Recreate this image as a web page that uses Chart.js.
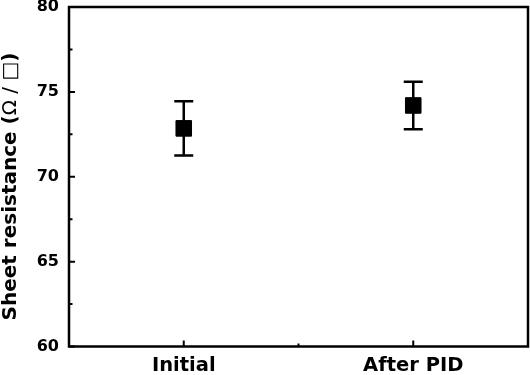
<!DOCTYPE html>
<html>
<head>
<meta charset="utf-8">
<script src="https://cdn.jsdelivr.net/npm/chart.js@4.4.1/dist/chart.umd.min.js"></script>
<style>
html,body{margin:0;padding:0;background:#fff;}
#wrap{width:530px;height:375px;position:relative;}
</style>
</head>
<body>
<div id="wrap"><canvas id="c" width="530" height="375"></canvas></div>
<script>
const categories = ['Initial', 'After PID'];
const categoryPositions = [1, 2];
const meanValues = [72.85, 74.2];
const errorValues = [1.6, 1.4];
const yTicks = [60, 65, 70, 75, 80];
const yMinorTicks = [62.5, 67.5, 72.5, 77.5];
const xMinorTicks = [1.5];
const yTitleParts = [['Sheet resistance (', 'bold'], ['Ω / □', 'normal'], [')', 'bold']];

const FONT = '"DejaVu Sans", sans-serif';

const framePlugin = {
  id: 'frame',
  beforeDatasetsDraw(chart) {
    const ctx = chart.ctx;
    const xs = chart.scales.x, ys = chart.scales.y;
    ctx.save();
    ctx.strokeStyle = '#000';
    ctx.lineWidth = 2.5;
    categoryPositions.forEach((p, i) => {
      const x = xs.getPixelForValue(p);
      const yt = ys.getPixelForValue(meanValues[i] + errorValues[i]);
      const yb = ys.getPixelForValue(meanValues[i] - errorValues[i]);
      ctx.beginPath();
      ctx.moveTo(x, yt); ctx.lineTo(x, yb);
      ctx.moveTo(x - 9.5, yt); ctx.lineTo(x + 9.5, yt);
      ctx.moveTo(x - 9.5, yb); ctx.lineTo(x + 9.5, yb);
      ctx.stroke();
    });
    ctx.restore();
  },
  afterDraw(chart) {
    const ctx = chart.ctx;
    const a = chart.chartArea;
    const xs = chart.scales.x, ys = chart.scales.y;
    ctx.save();
    ctx.strokeStyle = '#000';
    ctx.lineWidth = 2.5;
    ctx.strokeRect(a.left, a.top, a.right - a.left, a.bottom - a.top);
    ctx.lineWidth = 2;
    ctx.beginPath();
    yTicks.forEach(v => {
      const y = ys.getPixelForValue(v);
      ctx.moveTo(a.left, y); ctx.lineTo(a.left + 6, y);
    });
    yMinorTicks.forEach(v => {
      const y = ys.getPixelForValue(v);
      ctx.moveTo(a.left, y); ctx.lineTo(a.left + 3.5, y);
    });
    categoryPositions.forEach(v => {
      const x = xs.getPixelForValue(v);
      ctx.moveTo(x, a.bottom); ctx.lineTo(x, a.bottom - 6);
    });
    xMinorTicks.forEach(v => {
      const x = xs.getPixelForValue(v);
      ctx.moveTo(x, a.bottom); ctx.lineTo(x, a.bottom - 3);
    });
    ctx.stroke();

    // y-axis title
    ctx.fillStyle = '#000';
    ctx.textBaseline = 'middle';
    ctx.textAlign = 'left';
    let total = 0;
    const widths = yTitleParts.map(([t, w]) => {
      ctx.font = w + ' 20px ' + FONT;
      const m = ctx.measureText(t).width;
      total += m;
      return m;
    });
    ctx.translate(11, 186.5);
    ctx.rotate(-Math.PI / 2);
    let x = -total / 2;
    yTitleParts.forEach(([t, w], i) => {
      ctx.font = w + ' 20px ' + FONT;
      ctx.fillText(t, x, 0);
      x += widths[i];
    });
    ctx.restore();
  }
};

new Chart(document.getElementById('c'), {
  type: 'scatter',
  data: {
    datasets: [{
      data: categoryPositions.map((p, i) => ({x: p, y: meanValues[i]})),
      pointStyle: 'rect',
      pointRadius: 11,
      pointHoverRadius: 11,
      backgroundColor: '#000',
      borderColor: '#000',
      borderWidth: 1
    }]
  },
  options: {
    responsive: false,
    animation: false,
    events: [],
    layout: { autoPadding: false, padding: { top: 7, right: 2, left: 0, bottom: 0 } },
    plugins: { legend: { display: false }, tooltip: { enabled: false } },
    scales: {
      x: {
        type: 'linear',
        min: 0.5, max: 2.5,
        afterBuildTicks(s) { s.ticks = categoryPositions.map(v => ({value: v})); },
        afterFit(s) { s.height = 28.5; s.paddingLeft = 0; s.paddingRight = 0; },
        grid: { display: false, drawTicks: false },
        border: { display: false },
        ticks: {
          padding: 8,
          color: '#000',
          font: { family: FONT, size: 19.5, weight: 'bold' },
          callback(v) { const i = categoryPositions.indexOf(v); return i >= 0 ? categories[i] : ''; },
          maxRotation: 0, autoSkip: false
        }
      },
      y: {
        min: 60, max: 80,
        afterBuildTicks(s) { s.ticks = yTicks.map(v => ({value: v})); },
        afterFit(s) { s.width = 69; s.paddingTop = 0; s.paddingBottom = 0; },
        grid: { display: false, drawTicks: false },
        border: { display: false },
        ticks: {
          padding: 10,
          color: '#000',
          font: { family: FONT, size: 16, weight: 'bold' }
        }
      }
    }
  },
  plugins: [framePlugin]
});
</script>
</body>
</html>
